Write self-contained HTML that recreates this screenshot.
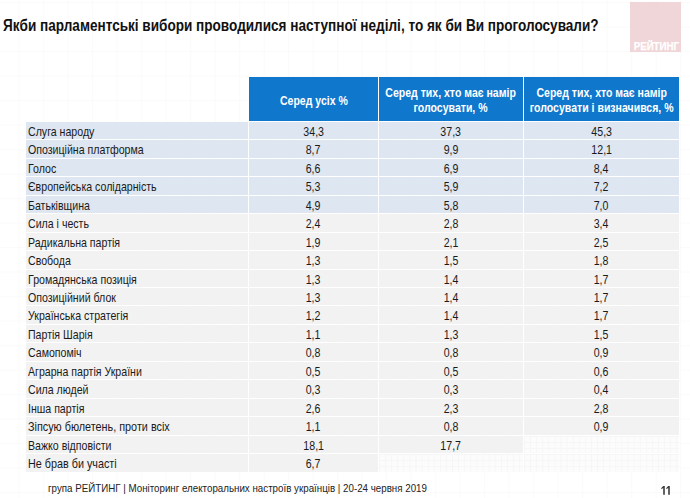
<!DOCTYPE html><html><head><meta charset="utf-8"><style>
html,body{margin:0;padding:0;}
body{width:690px;height:498px;position:relative;overflow:hidden;background-color:#fff;background-image:linear-gradient(to right,#fafafa 1px,transparent 1px),linear-gradient(to bottom,#fafafa 1px,transparent 1px);background-size:24.5px 24.5px;background-position:18.7px 2.2px;font-family:"Liberation Sans",sans-serif;}
.a{position:absolute;}
.c{position:absolute;display:flex;align-items:center;justify-content:center;overflow:visible;white-space:nowrap;}
.l{justify-content:flex-start;}
.s{display:inline-block;transform-origin:center center;}
.l .s{transform-origin:left center;}
</style></head><body>

<div class="a" style="left:2.5px;top:16px;font-size:16px;font-weight:bold;color:#111;white-space:nowrap;transform:scaleX(0.848);transform-origin:left top;line-height:20px">Якби парламентські вибори проводилися наступної неділі, то як би Ви проголосували?</div>
<div class="a" style="left:630px;top:2px;width:51px;height:50px;background:#f0d6d8"></div>
<div class="a" style="left:632.5px;top:40.5px;width:46px;height:12px;color:#fff;font-weight:bold;font-size:10px;line-height:12px;text-align:center;white-space:nowrap"><span style="display:inline-block;transform:scaleX(0.97);-webkit-text-stroke:0.25px #fff">РЕЙТИНГ</span></div>
<div class="c" style="left:249px;top:77px;width:129px;height:44px;background:#0f77cc;color:#fff;font-weight:bold;font-size:13px;line-height:14.8px;text-align:center"><span class="s" style="transform:translateY(1.5px) scaleX(0.81)">Серед усіх %</span></div>
<div class="c" style="left:379px;top:77px;width:144px;height:44px;background:#0f77cc;color:#fff;font-weight:bold;font-size:13px;line-height:14.8px;text-align:center"><span class="s" style="transform:translateY(1.5px) scaleX(0.81)">Серед тих, хто має намір<br>голосувати, %</span></div>
<div class="c" style="left:524px;top:77px;width:155px;height:44px;background:#0f77cc;color:#fff;font-weight:bold;font-size:13px;line-height:14.8px;text-align:center"><span class="s" style="transform:translateY(1.5px) scaleX(0.81)">Серед тих, хто має намір<br>голосувати і визначився, %</span></div>
<div class="c l" style="left:26px;top:122px;width:220px;height:17px;padding-left:2px;background:#dde6f1;color:#1a1a1a;font-size:13px;line-height:14px"><span class="s" style="transform:translateY(0.7px) scaleX(0.815)">Слуга народу</span></div>
<div class="c" style="left:249px;top:122px;width:129px;height:17px;background:#dde6f1;color:#1a1a1a;font-size:13px;line-height:14px"><span class="s" style="transform:translateY(0.7px) scaleX(0.815)">34,3</span></div>
<div class="c" style="left:379px;top:122px;width:144px;height:17px;background:#dde6f1;color:#1a1a1a;font-size:13px;line-height:14px"><span class="s" style="transform:translateY(0.7px) scaleX(0.815)">37,3</span></div>
<div class="c" style="left:524px;top:122px;width:155px;height:17px;background:#dde6f1;color:#1a1a1a;font-size:13px;line-height:14px"><span class="s" style="transform:translateY(0.7px) scaleX(0.815)">45,3</span></div>
<div class="c l" style="left:26px;top:140px;width:220px;height:18px;padding-left:2px;background:#dde6f1;color:#1a1a1a;font-size:13px;line-height:14px"><span class="s" style="transform:translateY(0.7px) scaleX(0.815)">Опозиційна платформа</span></div>
<div class="c" style="left:249px;top:140px;width:129px;height:18px;background:#dde6f1;color:#1a1a1a;font-size:13px;line-height:14px"><span class="s" style="transform:translateY(0.7px) scaleX(0.815)">8,7</span></div>
<div class="c" style="left:379px;top:140px;width:144px;height:18px;background:#dde6f1;color:#1a1a1a;font-size:13px;line-height:14px"><span class="s" style="transform:translateY(0.7px) scaleX(0.815)">9,9</span></div>
<div class="c" style="left:524px;top:140px;width:155px;height:18px;background:#dde6f1;color:#1a1a1a;font-size:13px;line-height:14px"><span class="s" style="transform:translateY(0.7px) scaleX(0.815)">12,1</span></div>
<div class="c l" style="left:26px;top:159px;width:220px;height:17px;padding-left:2px;background:#dde6f1;color:#1a1a1a;font-size:13px;line-height:14px"><span class="s" style="transform:translateY(0.7px) scaleX(0.815)">Голос</span></div>
<div class="c" style="left:249px;top:159px;width:129px;height:17px;background:#dde6f1;color:#1a1a1a;font-size:13px;line-height:14px"><span class="s" style="transform:translateY(0.7px) scaleX(0.815)">6,6</span></div>
<div class="c" style="left:379px;top:159px;width:144px;height:17px;background:#dde6f1;color:#1a1a1a;font-size:13px;line-height:14px"><span class="s" style="transform:translateY(0.7px) scaleX(0.815)">6,9</span></div>
<div class="c" style="left:524px;top:159px;width:155px;height:17px;background:#dde6f1;color:#1a1a1a;font-size:13px;line-height:14px"><span class="s" style="transform:translateY(0.7px) scaleX(0.815)">8,4</span></div>
<div class="c l" style="left:26px;top:177px;width:220px;height:18px;padding-left:2px;background:#dde6f1;color:#1a1a1a;font-size:13px;line-height:14px"><span class="s" style="transform:translateY(0.7px) scaleX(0.815)">Європейська солідарність</span></div>
<div class="c" style="left:249px;top:177px;width:129px;height:18px;background:#dde6f1;color:#1a1a1a;font-size:13px;line-height:14px"><span class="s" style="transform:translateY(0.7px) scaleX(0.815)">5,3</span></div>
<div class="c" style="left:379px;top:177px;width:144px;height:18px;background:#dde6f1;color:#1a1a1a;font-size:13px;line-height:14px"><span class="s" style="transform:translateY(0.7px) scaleX(0.815)">5,9</span></div>
<div class="c" style="left:524px;top:177px;width:155px;height:18px;background:#dde6f1;color:#1a1a1a;font-size:13px;line-height:14px"><span class="s" style="transform:translateY(0.7px) scaleX(0.815)">7,2</span></div>
<div class="c l" style="left:26px;top:196px;width:220px;height:17px;padding-left:2px;background:#dde6f1;color:#1a1a1a;font-size:13px;line-height:14px"><span class="s" style="transform:translateY(0.7px) scaleX(0.815)">Батьківщина</span></div>
<div class="c" style="left:249px;top:196px;width:129px;height:17px;background:#dde6f1;color:#1a1a1a;font-size:13px;line-height:14px"><span class="s" style="transform:translateY(0.7px) scaleX(0.815)">4,9</span></div>
<div class="c" style="left:379px;top:196px;width:144px;height:17px;background:#dde6f1;color:#1a1a1a;font-size:13px;line-height:14px"><span class="s" style="transform:translateY(0.7px) scaleX(0.815)">5,8</span></div>
<div class="c" style="left:524px;top:196px;width:155px;height:17px;background:#dde6f1;color:#1a1a1a;font-size:13px;line-height:14px"><span class="s" style="transform:translateY(0.7px) scaleX(0.815)">7,0</span></div>
<div class="c l" style="left:26px;top:214px;width:220px;height:18px;padding-left:2px;background:#f2f2f2;color:#1a1a1a;font-size:13px;line-height:14px"><span class="s" style="transform:translateY(0.7px) scaleX(0.815)">Сила і честь</span></div>
<div class="c" style="left:249px;top:214px;width:129px;height:18px;background:#f2f2f2;color:#1a1a1a;font-size:13px;line-height:14px"><span class="s" style="transform:translateY(0.7px) scaleX(0.815)">2,4</span></div>
<div class="c" style="left:379px;top:214px;width:144px;height:18px;background:#f2f2f2;color:#1a1a1a;font-size:13px;line-height:14px"><span class="s" style="transform:translateY(0.7px) scaleX(0.815)">2,8</span></div>
<div class="c" style="left:524px;top:214px;width:155px;height:18px;background:#f2f2f2;color:#1a1a1a;font-size:13px;line-height:14px"><span class="s" style="transform:translateY(0.7px) scaleX(0.815)">3,4</span></div>
<div class="c l" style="left:26px;top:233px;width:220px;height:17px;padding-left:2px;background:#f2f2f2;color:#1a1a1a;font-size:13px;line-height:14px"><span class="s" style="transform:translateY(0.7px) scaleX(0.815)">Радикальна партія</span></div>
<div class="c" style="left:249px;top:233px;width:129px;height:17px;background:#f2f2f2;color:#1a1a1a;font-size:13px;line-height:14px"><span class="s" style="transform:translateY(0.7px) scaleX(0.815)">1,9</span></div>
<div class="c" style="left:379px;top:233px;width:144px;height:17px;background:#f2f2f2;color:#1a1a1a;font-size:13px;line-height:14px"><span class="s" style="transform:translateY(0.7px) scaleX(0.815)">2,1</span></div>
<div class="c" style="left:524px;top:233px;width:155px;height:17px;background:#f2f2f2;color:#1a1a1a;font-size:13px;line-height:14px"><span class="s" style="transform:translateY(0.7px) scaleX(0.815)">2,5</span></div>
<div class="c l" style="left:26px;top:251px;width:220px;height:18px;padding-left:2px;background:#f2f2f2;color:#1a1a1a;font-size:13px;line-height:14px"><span class="s" style="transform:translateY(0.7px) scaleX(0.815)">Свобода</span></div>
<div class="c" style="left:249px;top:251px;width:129px;height:18px;background:#f2f2f2;color:#1a1a1a;font-size:13px;line-height:14px"><span class="s" style="transform:translateY(0.7px) scaleX(0.815)">1,3</span></div>
<div class="c" style="left:379px;top:251px;width:144px;height:18px;background:#f2f2f2;color:#1a1a1a;font-size:13px;line-height:14px"><span class="s" style="transform:translateY(0.7px) scaleX(0.815)">1,5</span></div>
<div class="c" style="left:524px;top:251px;width:155px;height:18px;background:#f2f2f2;color:#1a1a1a;font-size:13px;line-height:14px"><span class="s" style="transform:translateY(0.7px) scaleX(0.815)">1,8</span></div>
<div class="c l" style="left:26px;top:270px;width:220px;height:17px;padding-left:2px;background:#f2f2f2;color:#1a1a1a;font-size:13px;line-height:14px"><span class="s" style="transform:translateY(0.7px) scaleX(0.815)">Громадянська позиція</span></div>
<div class="c" style="left:249px;top:270px;width:129px;height:17px;background:#f2f2f2;color:#1a1a1a;font-size:13px;line-height:14px"><span class="s" style="transform:translateY(0.7px) scaleX(0.815)">1,3</span></div>
<div class="c" style="left:379px;top:270px;width:144px;height:17px;background:#f2f2f2;color:#1a1a1a;font-size:13px;line-height:14px"><span class="s" style="transform:translateY(0.7px) scaleX(0.815)">1,4</span></div>
<div class="c" style="left:524px;top:270px;width:155px;height:17px;background:#f2f2f2;color:#1a1a1a;font-size:13px;line-height:14px"><span class="s" style="transform:translateY(0.7px) scaleX(0.815)">1,7</span></div>
<div class="c l" style="left:26px;top:288px;width:220px;height:17px;padding-left:2px;background:#f2f2f2;color:#1a1a1a;font-size:13px;line-height:14px"><span class="s" style="transform:translateY(0.7px) scaleX(0.815)">Опозиційний блок</span></div>
<div class="c" style="left:249px;top:288px;width:129px;height:17px;background:#f2f2f2;color:#1a1a1a;font-size:13px;line-height:14px"><span class="s" style="transform:translateY(0.7px) scaleX(0.815)">1,3</span></div>
<div class="c" style="left:379px;top:288px;width:144px;height:17px;background:#f2f2f2;color:#1a1a1a;font-size:13px;line-height:14px"><span class="s" style="transform:translateY(0.7px) scaleX(0.815)">1,4</span></div>
<div class="c" style="left:524px;top:288px;width:155px;height:17px;background:#f2f2f2;color:#1a1a1a;font-size:13px;line-height:14px"><span class="s" style="transform:translateY(0.7px) scaleX(0.815)">1,7</span></div>
<div class="c l" style="left:26px;top:306px;width:220px;height:18px;padding-left:2px;background:#f2f2f2;color:#1a1a1a;font-size:13px;line-height:14px"><span class="s" style="transform:translateY(0.7px) scaleX(0.815)">Українська стратегія</span></div>
<div class="c" style="left:249px;top:306px;width:129px;height:18px;background:#f2f2f2;color:#1a1a1a;font-size:13px;line-height:14px"><span class="s" style="transform:translateY(0.7px) scaleX(0.815)">1,2</span></div>
<div class="c" style="left:379px;top:306px;width:144px;height:18px;background:#f2f2f2;color:#1a1a1a;font-size:13px;line-height:14px"><span class="s" style="transform:translateY(0.7px) scaleX(0.815)">1,4</span></div>
<div class="c" style="left:524px;top:306px;width:155px;height:18px;background:#f2f2f2;color:#1a1a1a;font-size:13px;line-height:14px"><span class="s" style="transform:translateY(0.7px) scaleX(0.815)">1,7</span></div>
<div class="c l" style="left:26px;top:325px;width:220px;height:17px;padding-left:2px;background:#f2f2f2;color:#1a1a1a;font-size:13px;line-height:14px"><span class="s" style="transform:translateY(0.7px) scaleX(0.815)">Партія Шарія</span></div>
<div class="c" style="left:249px;top:325px;width:129px;height:17px;background:#f2f2f2;color:#1a1a1a;font-size:13px;line-height:14px"><span class="s" style="transform:translateY(0.7px) scaleX(0.815)">1,1</span></div>
<div class="c" style="left:379px;top:325px;width:144px;height:17px;background:#f2f2f2;color:#1a1a1a;font-size:13px;line-height:14px"><span class="s" style="transform:translateY(0.7px) scaleX(0.815)">1,3</span></div>
<div class="c" style="left:524px;top:325px;width:155px;height:17px;background:#f2f2f2;color:#1a1a1a;font-size:13px;line-height:14px"><span class="s" style="transform:translateY(0.7px) scaleX(0.815)">1,5</span></div>
<div class="c l" style="left:26px;top:343px;width:220px;height:18px;padding-left:2px;background:#f2f2f2;color:#1a1a1a;font-size:13px;line-height:14px"><span class="s" style="transform:translateY(0.7px) scaleX(0.815)">Самопоміч</span></div>
<div class="c" style="left:249px;top:343px;width:129px;height:18px;background:#f2f2f2;color:#1a1a1a;font-size:13px;line-height:14px"><span class="s" style="transform:translateY(0.7px) scaleX(0.815)">0,8</span></div>
<div class="c" style="left:379px;top:343px;width:144px;height:18px;background:#f2f2f2;color:#1a1a1a;font-size:13px;line-height:14px"><span class="s" style="transform:translateY(0.7px) scaleX(0.815)">0,8</span></div>
<div class="c" style="left:524px;top:343px;width:155px;height:18px;background:#f2f2f2;color:#1a1a1a;font-size:13px;line-height:14px"><span class="s" style="transform:translateY(0.7px) scaleX(0.815)">0,9</span></div>
<div class="c l" style="left:26px;top:362px;width:220px;height:17px;padding-left:2px;background:#f2f2f2;color:#1a1a1a;font-size:13px;line-height:14px"><span class="s" style="transform:translateY(0.7px) scaleX(0.815)">Аграрна партія України</span></div>
<div class="c" style="left:249px;top:362px;width:129px;height:17px;background:#f2f2f2;color:#1a1a1a;font-size:13px;line-height:14px"><span class="s" style="transform:translateY(0.7px) scaleX(0.815)">0,5</span></div>
<div class="c" style="left:379px;top:362px;width:144px;height:17px;background:#f2f2f2;color:#1a1a1a;font-size:13px;line-height:14px"><span class="s" style="transform:translateY(0.7px) scaleX(0.815)">0,5</span></div>
<div class="c" style="left:524px;top:362px;width:155px;height:17px;background:#f2f2f2;color:#1a1a1a;font-size:13px;line-height:14px"><span class="s" style="transform:translateY(0.7px) scaleX(0.815)">0,6</span></div>
<div class="c l" style="left:26px;top:380px;width:220px;height:18px;padding-left:2px;background:#f2f2f2;color:#1a1a1a;font-size:13px;line-height:14px"><span class="s" style="transform:translateY(0.7px) scaleX(0.815)">Сила людей</span></div>
<div class="c" style="left:249px;top:380px;width:129px;height:18px;background:#f2f2f2;color:#1a1a1a;font-size:13px;line-height:14px"><span class="s" style="transform:translateY(0.7px) scaleX(0.815)">0,3</span></div>
<div class="c" style="left:379px;top:380px;width:144px;height:18px;background:#f2f2f2;color:#1a1a1a;font-size:13px;line-height:14px"><span class="s" style="transform:translateY(0.7px) scaleX(0.815)">0,3</span></div>
<div class="c" style="left:524px;top:380px;width:155px;height:18px;background:#f2f2f2;color:#1a1a1a;font-size:13px;line-height:14px"><span class="s" style="transform:translateY(0.7px) scaleX(0.815)">0,4</span></div>
<div class="c l" style="left:26px;top:399px;width:220px;height:17px;padding-left:2px;background:#f2f2f2;color:#1a1a1a;font-size:13px;line-height:14px"><span class="s" style="transform:translateY(0.7px) scaleX(0.815)">Інша партія</span></div>
<div class="c" style="left:249px;top:399px;width:129px;height:17px;background:#f2f2f2;color:#1a1a1a;font-size:13px;line-height:14px"><span class="s" style="transform:translateY(0.7px) scaleX(0.815)">2,6</span></div>
<div class="c" style="left:379px;top:399px;width:144px;height:17px;background:#f2f2f2;color:#1a1a1a;font-size:13px;line-height:14px"><span class="s" style="transform:translateY(0.7px) scaleX(0.815)">2,3</span></div>
<div class="c" style="left:524px;top:399px;width:155px;height:17px;background:#f2f2f2;color:#1a1a1a;font-size:13px;line-height:14px"><span class="s" style="transform:translateY(0.7px) scaleX(0.815)">2,8</span></div>
<div class="c l" style="left:26px;top:417px;width:220px;height:18px;padding-left:2px;background:#f2f2f2;color:#1a1a1a;font-size:13px;line-height:14px"><span class="s" style="transform:translateY(0.7px) scaleX(0.832)">Зіпсую бюлетень, проти всіх</span></div>
<div class="c" style="left:249px;top:417px;width:129px;height:18px;background:#f2f2f2;color:#1a1a1a;font-size:13px;line-height:14px"><span class="s" style="transform:translateY(0.7px) scaleX(0.815)">1,1</span></div>
<div class="c" style="left:379px;top:417px;width:144px;height:18px;background:#f2f2f2;color:#1a1a1a;font-size:13px;line-height:14px"><span class="s" style="transform:translateY(0.7px) scaleX(0.815)">0,8</span></div>
<div class="c" style="left:524px;top:417px;width:155px;height:18px;background:#f2f2f2;color:#1a1a1a;font-size:13px;line-height:14px"><span class="s" style="transform:translateY(0.7px) scaleX(0.815)">0,9</span></div>
<div class="c l" style="left:26px;top:436px;width:220px;height:17px;padding-left:2px;background:#f2f2f2;color:#1a1a1a;font-size:13px;line-height:14px"><span class="s" style="transform:translateY(0.7px) scaleX(0.815)">Важко відповісти</span></div>
<div class="c" style="left:249px;top:436px;width:129px;height:17px;background:#f2f2f2;color:#1a1a1a;font-size:13px;line-height:14px"><span class="s" style="transform:translateY(0.7px) scaleX(0.815)">18,1</span></div>
<div class="c" style="left:379px;top:436px;width:144px;height:17px;background:#f2f2f2;color:#1a1a1a;font-size:13px;line-height:14px"><span class="s" style="transform:translateY(0.7px) scaleX(0.815)">17,7</span></div>
<div class="c l" style="left:26px;top:454px;width:220px;height:18px;padding-left:2px;background:#f2f2f2;color:#1a1a1a;font-size:13px;line-height:14px"><span class="s" style="transform:translateY(0.7px) scaleX(0.83)">Не брав би участі</span></div>
<div class="c" style="left:249px;top:454px;width:129px;height:18px;background:#f2f2f2;color:#1a1a1a;font-size:13px;line-height:14px"><span class="s" style="transform:translateY(0.7px) scaleX(0.815)">6,7</span></div>
<div class="a" style="left:524px;top:436px;width:155px;height:17px;background-color:#fcfcfc;background-image:linear-gradient(to right,#f6f6f6 1px,transparent 1px),linear-gradient(to bottom,#f6f6f6 1px,transparent 1px);background-size:6.1px 6.1px"></div>
<div class="a" style="left:379px;top:454px;width:144px;height:18px;background-color:#fcfcfc;background-image:linear-gradient(to right,#f6f6f6 1px,transparent 1px),linear-gradient(to bottom,#f6f6f6 1px,transparent 1px);background-size:6.1px 6.1px"></div>
<div class="a" style="left:524px;top:454px;width:155px;height:18px;background-color:#fcfcfc;background-image:linear-gradient(to right,#f6f6f6 1px,transparent 1px),linear-gradient(to bottom,#f6f6f6 1px,transparent 1px);background-size:6.1px 6.1px"></div>
<div class="a" style="left:48px;top:482px;font-size:11px;line-height:13px;color:#222;white-space:nowrap;transform:scaleX(0.887);transform-origin:left top">група РЕЙТИНГ | Моніторинг електоральних настроїв українців | 20-24 червня 2019</div>
<svg class="a" style="left:0;top:0" width="690" height="498" viewBox="0 0 690 498"><g fill="#3c3c3c"><path d="M663.2 486 H664.8 V494.8 H663.2 V487.9 L661.3 489.2 V488.1 Z"/><path d="M668.2 486 H669.8 V494.8 H668.2 V487.9 L666.3 489.2 V488.1 Z"/></g></svg>
</body></html>
